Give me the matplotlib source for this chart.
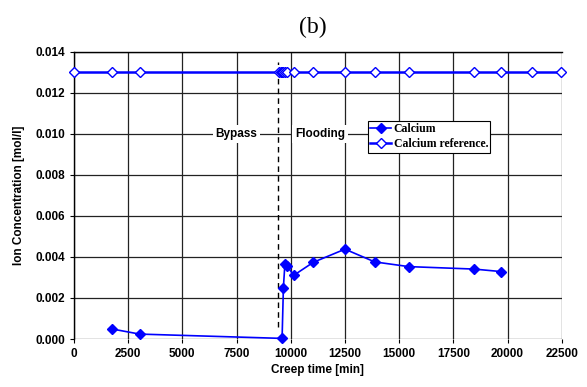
import matplotlib.pyplot as plt

# Calcium concentration over creep time
ca_time = [1750, 3030, 9600, 9660, 9730, 9840, 10130, 11040, 12500, 13870, 15440, 18450, 19680]
ca_conc = [0.00049, 0.00024, 0.00003, 0.0025, 0.00367, 0.00356, 0.0031, 0.00374, 0.00438,
           0.00376, 0.00353, 0.00341, 0.00329]

# Reference line
ref_time = [20, 1750, 3030, 9450, 9530, 9600, 9660, 9730, 9840, 10130, 11040, 12500,
            13870, 15440, 18450, 19680, 21110, 22460]
ref_conc = [0.013] * len(ref_time)

bypass_x = 9400
blue = '#0000ff'

plt.rcParams['font.family'] = ['Liberation Sans', 'DejaVu Sans']
fig = plt.figure(figsize=(5.87, 3.87), dpi=100)
ax = fig.add_axes([0.126, 0.124, 0.831, 0.742])

ax.plot(ca_time, ca_conc, color=blue, lw=1.2, marker='D', ms=5, label='Calcium',
        zorder=4, clip_on=False)
ax.plot(ref_time, ref_conc, color=blue, lw=1.8, marker='D', ms=5, mfc='white', mec=blue,
        mew=1, label='Calcium reference.', zorder=4, clip_on=False)

ax.plot([bypass_x, bypass_x], [0.0006, 0.0135], color='black', ls=(0, (4, 3)), lw=1, zorder=3)

ax.text(7500, 0.010, 'Bypass', ha='center', va='center', fontsize=8.5, fontweight='bold',
        bbox=dict(facecolor='white', edgecolor='none', pad=2), zorder=3)
ax.text(11350, 0.010, 'Flooding', ha='center', va='center', fontsize=8.5, fontweight='bold',
        bbox=dict(facecolor='white', edgecolor='none', pad=2), zorder=3)

ax.set_xlim(0, 22500)
ax.set_ylim(0, 0.014)
ax.set_xticks(range(0, 22501, 2500))
ax.set_yticks([i * 0.002 for i in range(8)])
ax.set_yticklabels(['%.3f' % (i * 0.002) for i in range(8)])
ax.tick_params(labelsize=8.5, length=3, color='black')
for lab in ax.get_xticklabels() + ax.get_yticklabels():
    lab.set_fontweight('bold')

ax.grid(True, color='#222222', lw=0.9)
ax.set_axisbelow(True)
for s in ['right', 'bottom']:
    ax.spines[s].set_visible(False)
ax.spines['left'].set_linewidth(1)
ax.spines['top'].set_linewidth(1)

ax.set_xlabel('Creep time [min]', fontsize=8.5, fontweight='bold', labelpad=3)
ax.set_ylabel('Ion Concentration [mol/l]', fontsize=8.5, fontweight='bold', labelpad=7)

leg = ax.legend(loc='upper left', bbox_to_anchor=(0.59, 0.78), fancybox=False,
                edgecolor='black', framealpha=1, borderpad=0.2, handlelength=1.8,
                handletextpad=0.2, labelspacing=0.25,
                prop={'family': 'Liberation Serif', 'weight': 'bold', 'size': 8.5})
leg.get_frame().set_linewidth(0.8)
leg.set_zorder(5)

fig.text(0.533, 0.93, '(b)', ha='center', va='center', fontsize=17, family='Liberation Serif')

fig.savefig('out.png', dpi=100)
